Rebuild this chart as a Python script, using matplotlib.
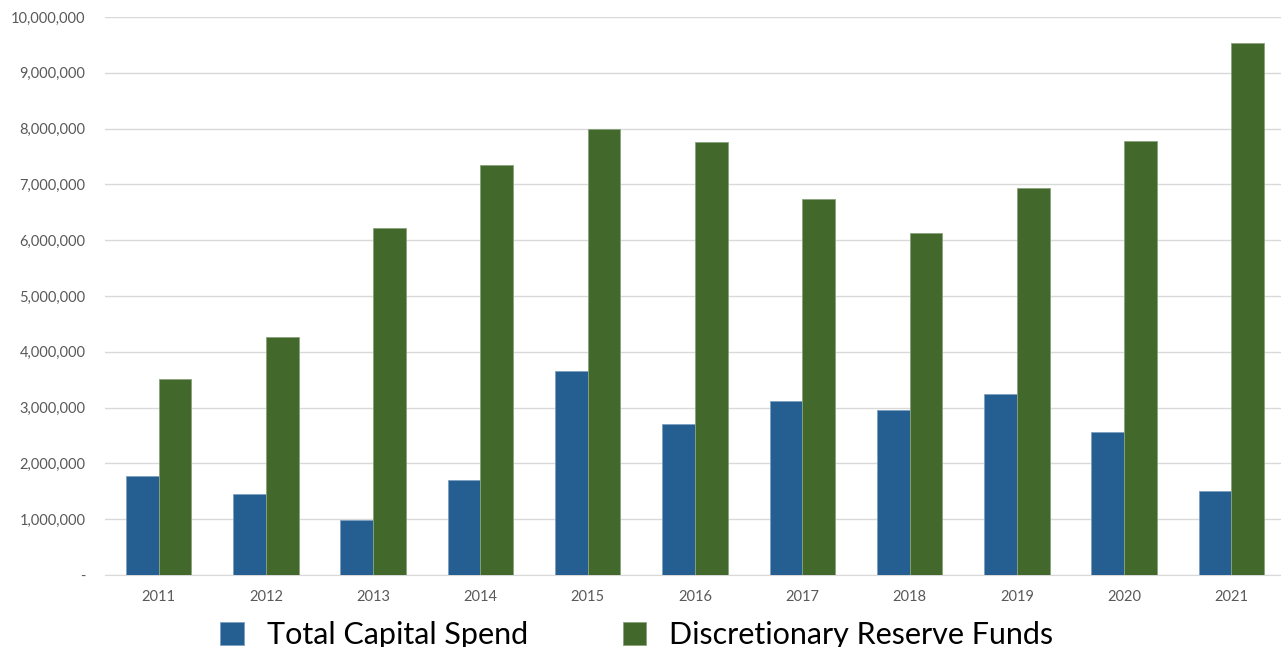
import matplotlib
matplotlib.use("Agg")
import matplotlib.pyplot as plt
from matplotlib.ticker import FuncFormatter
import numpy as np

years = ["2011", "2012", "2013", "2014", "2015", "2016", "2017", "2018", "2019", "2020", "2021"]
capital_spend = [1780000, 1460000, 980000, 1700000, 3650000, 2710000, 3110000, 2960000, 3240000, 2570000, 1500000]
reserve_funds = [3520000, 4260000, 6220000, 7350000, 8000000, 7760000, 6740000, 6130000, 6930000, 7770000, 9530000]

BLUE = "#255e91"
GREEN = "#43682b"

fig = plt.figure(figsize=(12.81, 6.47), dpi=100)
ax = fig.add_axes([105 / 1281, 72 / 647, 1180 / 1281, 558 / 647])

x = np.arange(len(years))
w = 0.305
ax.bar(x - w / 2, capital_spend, w, color=BLUE, edgecolor="#7f9fbf", linewidth=0.6,
       label="Total Capital Spend", zorder=3)
ax.bar(x + w / 2, reserve_funds, w, color=GREEN, edgecolor="#8aa37a", linewidth=0.6,
       label="Discretionary Reserve Funds", zorder=3)

ax.set_xlim(-0.5, len(years) - 0.5)
ax.set_ylim(0, 10000000)
ax.set_yticks(np.arange(0, 10000001, 1000000))
ax.yaxis.set_major_formatter(FuncFormatter(lambda v, _: "-" if v == 0 else f"{int(v):,}"))
ax.set_xticks(x, labels=years)

ax.grid(axis="y", color="#d9d9d9", linewidth=1, zorder=0)
for s in ["top", "right", "left"]:
    ax.spines[s].set_visible(False)
ax.spines["bottom"].set_color("#d9d9d9")
ax.tick_params(axis="both", length=0, labelsize=10.5, labelcolor="#595959")
ax.tick_params(axis="y", pad=14)
ax.tick_params(axis="x", pad=11)
for lbl in ax.get_xticklabels() + ax.get_yticklabels():
    lbl.set_fontfamily("Lato")

leg = fig.legend(loc="center", bbox_to_anchor=(0.497, 0.019), ncol=2, frameon=False,
                 prop={"family": "Lato", "size": 22}, handlelength=0.78, handleheight=0.78,
                 handletextpad=0.75, columnspacing=3.1)

plt.savefig("out.png", dpi=100)
plt.close(fig)
